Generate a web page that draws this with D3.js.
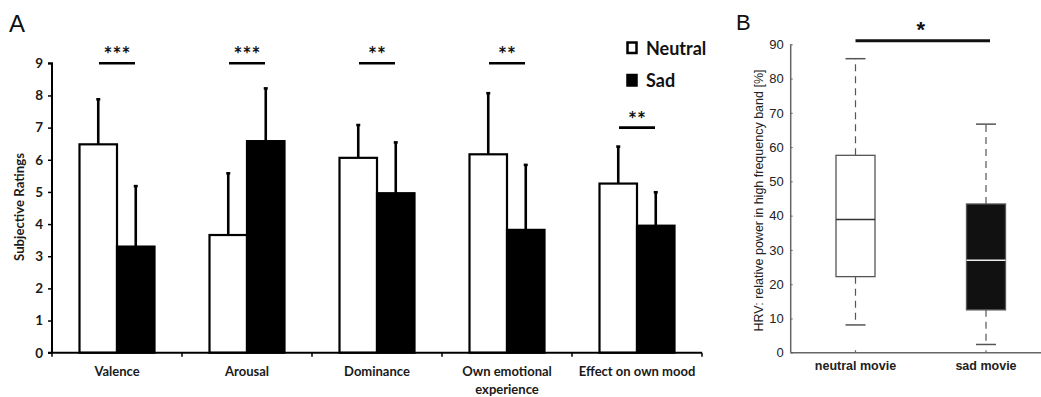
<!DOCTYPE html>
<html>
<head>
<meta charset="utf-8">
<script src="https://cdn.jsdelivr.net/npm/d3@7/dist/d3.min.js"></script>
<style>
  html, body { margin: 0; padding: 0; background: #fff; }
  svg { display: block; }
</style>
</head>
<body>
<svg id="chart" width="1041" height="397"></svg>
<script>
// Panel A: subjective ratings (mean + SD) per condition
const categories = ["Valence", "Arousal", "Dominance", "Own emotional experience", "Effect on own mood"];
const categoryLines = [["Valence"], ["Arousal"], ["Dominance"], ["Own emotional", "experience"], ["Effect on own mood"]];
const conditions = ["Neutral", "Sad"];
const neutralMean = [6.48, 3.66, 6.06, 6.17, 5.26];
const neutralSD   = [1.40, 1.92, 1.02, 1.90, 1.15];
const sadMean     = [3.30, 6.58, 4.96, 3.82, 3.95];
const sadSD       = [1.88, 1.64, 1.58, 2.02, 1.04];
const significance = ["***", "***", "**", "**", "**"];
const significanceLevel = [9, 9, 9, 9, 7];
const ratingTicks = [0, 1, 2, 3, 4, 5, 6, 7, 8, 9];

// Panel B: HRV high-frequency share, box plot summary
const movies = ["neutral movie", "sad movie"];
const hrvMin    = [8.1, 2.4];
const hrvQ1     = [22.2, 12.5];
const hrvMedian = [38.9, 27.0];
const hrvQ3     = [57.6, 43.4];
const hrvMax    = [85.8, 66.7];
const hrvTicks = [0, 10, 20, 30, 40, 50, 60, 70, 80, 90];
const hrvSignificance = "*";

const svg = d3.select("#chart");
const fontA = "Lato, 'Open Sans', sans-serif";
const fontB = "'Liberation Sans', Arial, sans-serif";

// ---------- Panel A ----------
const A = { left: 52, right: 702, top: 63.3, bottom: 352.7 };
const gA = svg.append("g");

const x0 = d3.scaleBand().domain(categories).range([A.left, A.right]).paddingInner(0).paddingOuter(0);
const x1 = d3.scaleBand().domain(conditions).range([x0.bandwidth() / 2 - 37.5, x0.bandwidth() / 2 + 37.5]);
const yA = d3.scaleLinear().domain([0, 9]).range([A.bottom, A.top]);

const rows = categories.map((c, i) => ({
  cat: c, i,
  vals: [
    { cond: "Neutral", mean: neutralMean[i], sd: neutralSD[i] },
    { cond: "Sad", mean: sadMean[i], sd: sadSD[i] }
  ]
}));

// error bars (drawn first so bars sit over their lower part)
const groups = gA.selectAll("g.grp").data(rows).join("g")
  .attr("class", "grp")
  .attr("transform", d => `translate(${x0(d.cat)},0)`);

groups.selectAll("line.err").data(d => d.vals).join("line")
  .attr("class", "err")
  .attr("x1", d => x1(d.cond) + x1.bandwidth() / 2)
  .attr("x2", d => x1(d.cond) + x1.bandwidth() / 2)
  .attr("y1", d => yA(d.mean))
  .attr("y2", d => yA(d.mean + d.sd))
  .attr("stroke", "#000").attr("stroke-width", 2.6);

groups.selectAll("line.cap").data(d => d.vals).join("line")
  .attr("class", "cap")
  .attr("x1", d => x1(d.cond) + x1.bandwidth() / 2 - 2)
  .attr("x2", d => x1(d.cond) + x1.bandwidth() / 2 + 2)
  .attr("y1", d => yA(d.mean + d.sd))
  .attr("y2", d => yA(d.mean + d.sd))
  .attr("stroke", "#000").attr("stroke-width", 2.6);

groups.selectAll("rect.bar").data(d => d.vals).join("rect")
  .attr("class", "bar")
  .attr("x", d => x1(d.cond))
  .attr("width", x1.bandwidth())
  .attr("y", d => yA(d.mean))
  .attr("height", d => yA(0) - yA(d.mean))
  .attr("fill", d => d.cond === "Sad" ? "#000" : "#fff")
  .attr("stroke", "#000").attr("stroke-width", 2.2);

// significance brackets
groups.append("line")
  .attr("x1", x0.bandwidth() / 2 - 18).attr("x2", x0.bandwidth() / 2 + 18)
  .attr("y1", d => yA(significanceLevel[d.i])).attr("y2", d => yA(significanceLevel[d.i]))
  .attr("stroke", "#000").attr("stroke-width", 2.6);
groups.append("text")
  .attr("x", x0.bandwidth() / 2)
  .attr("y", d => yA(significanceLevel[d.i]) - 1)
  .attr("text-anchor", "middle")
  .attr("font-family", fontA).attr("font-weight", "bold").attr("font-size", 21).attr("fill", "#111")
  .text(d => significance[d.i]);

// y axis
const yAxisA = d3.axisLeft(yA).tickValues(ratingTicks).tickSize(4).tickPadding(5).tickFormat(d3.format("d"));
const gyA = gA.append("g").attr("transform", `translate(${A.left},0)`).call(yAxisA);
gyA.select(".domain").attr("stroke", "#000").attr("stroke-width", 2).attr("d", `M-4,${A.top}H0V${A.bottom}`);
gyA.selectAll(".tick line").attr("stroke", "#000").attr("stroke-width", 1.5);
gyA.selectAll(".tick text").attr("font-family", fontA).attr("font-weight", "bold").attr("font-size", 13.5).attr("fill", "#1a1a1a");

// x axis with ticks on category boundaries
gA.append("line")
  .attr("x1", A.left - 4).attr("x2", A.right)
  .attr("y1", A.bottom).attr("y2", A.bottom)
  .attr("stroke", "#000").attr("stroke-width", 2);
gA.selectAll("line.xb").data(d3.range(categories.length + 1)).join("line")
  .attr("class", "xb")
  .attr("x1", i => A.left + i * x0.step()).attr("x2", i => A.left + i * x0.step())
  .attr("y1", A.bottom).attr("y2", A.bottom + 4)
  .attr("stroke", "#000").attr("stroke-width", 1.5);

gA.selectAll("text.xl").data(rows).join("text")
  .attr("class", "xl")
  .attr("x", d => x0(d.cat) + x0.bandwidth() / 2)
  .attr("y", 376)
  .attr("text-anchor", "middle")
  .attr("font-family", fontA).attr("font-weight", "bold").attr("font-size", 13).attr("fill", "#1a1a1a")
  .selectAll("tspan").data(d => categoryLines[d.i]).join("tspan")
  .attr("x", function () { return this.parentNode.getAttribute("x"); })
  .attr("dy", (d, j) => j === 0 ? 0 : 18)
  .text(d => d);

// y axis title
gA.append("text")
  .attr("transform", `translate(24,${207}) rotate(-90)`)
  .attr("text-anchor", "middle")
  .attr("font-family", fontA).attr("font-weight", "bold").attr("font-size", 13.2).attr("fill", "#1a1a1a")
  .text("Subjective Ratings");

// legend
const legend = gA.append("g");
conditions.forEach((c, i) => {
  const ly = 42 + i * 32.5;
  legend.append("rect")
    .attr("x", 627.5).attr("y", ly + 0.5).attr("width", 9).attr("height", 10.5)
    .attr("fill", c === "Sad" ? "#000" : "#fff")
    .attr("stroke", "#000").attr("stroke-width", 2.5);
  legend.append("text")
    .attr("x", 646).attr("y", ly + 12.5)
    .attr("font-family", fontA).attr("font-weight", "bold").attr("font-size", 18).attr("fill", "#111")
    .text(c);
});

// panel letter
svg.append("text").attr("x", 9).attr("y", 32)
  .attr("font-family", fontB).attr("font-size", 24).attr("fill", "#111").text("A");

// ---------- Panel B ----------
const B = { left: 790.7, right: 1041, top: 44.3, bottom: 352.7 };
const gB = svg.append("g");
const xB = d3.scalePoint().domain(movies).range([855.5, 986]);
const yB = d3.scaleLinear().domain([0, 90]).range([B.bottom, B.top]);
const boxW = 39, capW = 20;
const gray = "#555";

const boxes = movies.map((m, i) => ({
  m, i, min: hrvMin[i], q1: hrvQ1[i], med: hrvMedian[i], q3: hrvQ3[i], max: hrvMax[i]
}));

const bg = gB.selectAll("g.box").data(boxes).join("g").attr("class", "box")
  .attr("transform", d => `translate(${xB(d.m)},0)`);

// whiskers
bg.append("line").attr("x1", 0).attr("x2", 0)
  .attr("y1", d => yB(d.q3)).attr("y2", d => yB(d.max))
  .attr("stroke", gray).attr("stroke-width", 1.2).attr("stroke-dasharray", "7,5");
bg.append("line").attr("x1", 0).attr("x2", 0)
  .attr("y1", d => yB(d.q1)).attr("y2", d => yB(d.min))
  .attr("stroke", gray).attr("stroke-width", 1.2).attr("stroke-dasharray", "7,5");
bg.append("line").attr("x1", -capW / 2).attr("x2", capW / 2)
  .attr("y1", d => yB(d.max)).attr("y2", d => yB(d.max))
  .attr("stroke", gray).attr("stroke-width", 1.5);
bg.append("line").attr("x1", -capW / 2).attr("x2", capW / 2)
  .attr("y1", d => yB(d.min)).attr("y2", d => yB(d.min))
  .attr("stroke", gray).attr("stroke-width", 1.5);

// boxes
bg.append("rect")
  .attr("x", -boxW / 2).attr("width", boxW)
  .attr("y", d => yB(d.q3)).attr("height", d => yB(d.q1) - yB(d.q3))
  .attr("fill", d => d.i === 1 ? "#111" : "#fff")
  .attr("stroke", gray).attr("stroke-width", 1.3);
bg.append("line").attr("x1", -boxW / 2).attr("x2", boxW / 2)
  .attr("y1", d => yB(d.med)).attr("y2", d => yB(d.med))
  .attr("stroke", d => d.i === 1 ? "#eee" : "#333").attr("stroke-width", 1.5);

// axes
const yAxisB = d3.axisRight(yB).tickValues(hrvTicks).tickSize(2).tickFormat(d3.format("d"));
const gyB = gB.append("g").attr("transform", `translate(${B.left},0)`).call(yAxisB);
gyB.select(".domain").attr("stroke", "#666").attr("stroke-width", 1.5).attr("d", `M0,${B.top}V${B.bottom}`);
gyB.selectAll(".tick line").attr("stroke", "#666");
gyB.selectAll(".tick text")
  .attr("x", -7).attr("text-anchor", "end")
  .attr("font-family", fontB).attr("font-size", 13).attr("fill", "#222");

gB.append("line").attr("x1", B.left).attr("x2", B.right)
  .attr("y1", B.bottom).attr("y2", B.bottom)
  .attr("stroke", "#666").attr("stroke-width", 1.5);
gB.selectAll("line.xt").data(movies).join("line").attr("class", "xt")
  .attr("x1", d => xB(d)).attr("x2", d => xB(d))
  .attr("y1", B.bottom).attr("y2", B.bottom - 2.5)
  .attr("stroke", "#666").attr("stroke-width", 1.2);
gB.selectAll("text.xl").data(movies).join("text").attr("class", "xl")
  .attr("x", d => xB(d)).attr("y", 370)
  .attr("text-anchor", "middle")
  .attr("font-family", fontB).attr("font-weight", "bold").attr("font-size", 12.5).attr("fill", "#222")
  .text(d => d);

gB.append("text")
  .attr("transform", `translate(763,${(B.top + B.bottom) / 2 + 2}) rotate(-90)`)
  .attr("text-anchor", "middle")
  .attr("font-family", fontB).attr("font-size", 12.5).attr("fill", "#222")
  .text("HRV: relative power in high frequency band [%]");

// significance bar between movies
gB.append("line").attr("x1", xB(movies[0])).attr("x2", xB(movies[1]) + 4)
  .attr("y1", 40.7).attr("y2", 40.7).attr("stroke", "#111").attr("stroke-width", 3);
gB.append("text").attr("x", (xB(movies[0]) + xB(movies[1])) / 2).attr("y", 37)
  .attr("text-anchor", "middle")
  .attr("font-family", fontB).attr("font-weight", "bold").attr("font-size", 22).attr("fill", "#111")
  .text(hrvSignificance);

svg.append("text").attr("x", 736).attr("y", 30)
  .attr("font-family", fontB).attr("font-size", 22).attr("fill", "#111").text("B");
</script>
</body>
</html>
